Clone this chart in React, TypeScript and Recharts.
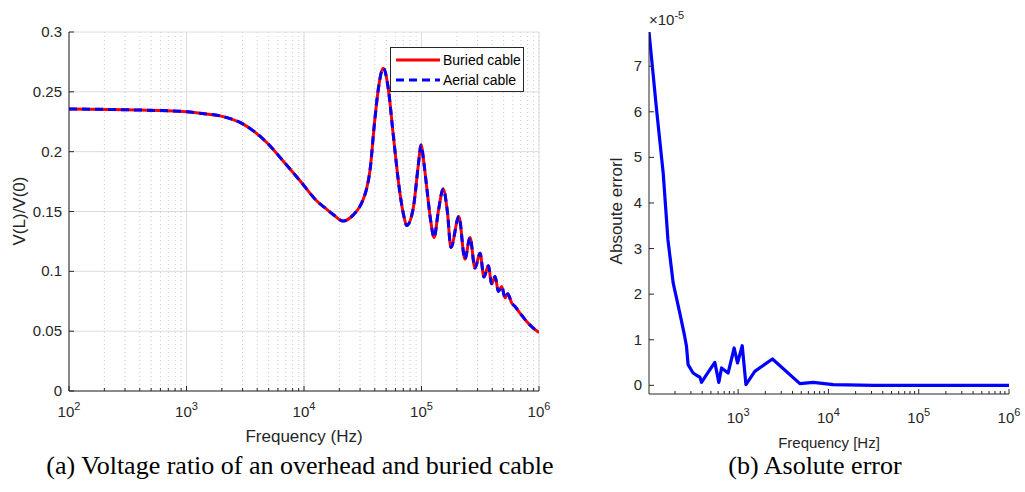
import React from "react";
import { LineChart, Line, XAxis, YAxis, CartesianGrid, Legend } from "recharts";

// (a) voltage ratio, frequency in Hz
const freqA = [
  100, 316, 1000, 1300, 1930, 3040, 4820, 6670, 9250, 12800, 15100, 17700, 21600, 26300, 30000, 32000, 34200,
  36500, 39800, 43000, 47300, 52100, 57500, 65600, 70800, 74800, 85100, 94000, 99100, 105000, 111000, 120000,
  128000, 139000, 153000, 166000, 178000, 208000, 234000, 259000, 285000, 315000, 340000, 371000, 395000,
  423000, 451000, 482000, 514000, 542000, 586000, 625000, 689000, 785000, 895000, 1000000,
];
const buriedCable = [
  0.2357, 0.235, 0.2334, 0.2321, 0.2299, 0.223, 0.2077, 0.192, 0.1757, 0.159, 0.153, 0.1475, 0.142, 0.1472, 0.1545, 0.1605, 0.1695,
  0.1848, 0.224, 0.253, 0.2697, 0.253, 0.214, 0.165, 0.146, 0.1383, 0.1528, 0.189, 0.2056, 0.19, 0.1695, 0.1416,
  0.1283, 0.15, 0.1687, 0.15, 0.12, 0.1458, 0.1102, 0.1283, 0.1027, 0.1152, 0.0952, 0.1046, 0.0896,
  0.0957, 0.0832, 0.0873, 0.0777, 0.0812, 0.0735, 0.0706, 0.0651, 0.0581, 0.0526, 0.0489,
];
// the two curves lie on top of each other
const aerialCable = buriedCable.slice();

// (b) absolute error, units of 1e-5
const freqB = [
  103, 125, 148, 167, 191, 226, 256, 268, 279, 317, 361, 377, 393, 447, 552, 611, 655, 774, 904, 984,
  1110, 1220, 1530, 2400, 4830, 6780, 11300, 31600, 1000000,
];
const absError = [
  7.75, 6.04, 4.65, 3.19, 2.24, 1.585, 1.073, 0.854, 0.453, 0.27, 0.197, 0.184, 0.066, 0.234, 0.504, 0.066, 0.381, 0.27, 0.819, 0.49,
  0.869, 0.015, 0.307, 0.578, 0.037, 0.066, 0.015, 0, 0,
];

const decadesA = [100, 1000, 10000, 100000, 1000000];
const decadesB = [1000, 10000, 100000, 1000000];
const minorsA = [100, 1000, 10000, 100000].flatMap((d) => [2, 3, 4, 5, 6, 7, 8, 9].map((m) => m * d));
const minorsB = minorsA.filter((f) => f > 103);
const yTicksA = [0, 0.05, 0.1, 0.15, 0.2, 0.25, 0.3];
const yTicksB = [0, 1, 2, 3, 4, 5, 6, 7];

const dataA = freqA.map((f, i) => ({ freq: f, buried: buriedCable[i], aerial: aerialCable[i] }));
const dataB = freqB.map((f, i) => ({ freq: f, err: absError[i] }));

const AX = "#262626";
const FONT = "'Liberation Sans', Arial, sans-serif";
const SERIF = "'Liberation Serif', 'Times New Roman', serif";

const makeBottomTick = (majors: number[], labelDy: number) => (props: any) => {
  const { x, y, payload } = props;
  const major = majors.includes(payload.value);
  return (
    <g>
      <line x1={x} y1={y} x2={x} y2={y - (major ? 5 : 3)} stroke={AX} />
      {major && (
        <text x={x} y={y + labelDy} textAnchor="middle" fontSize={15} fill={AX} fontFamily={FONT}>
          10
          <tspan dy={-7} fontSize={11}>{Math.round(Math.log10(payload.value))}</tspan>
        </text>
      )}
    </g>
  );
};

const makeTopTick = (majors: number[]) => (props: any) => {
  const { x, y, payload } = props;
  const major = majors.includes(payload.value);
  return <line x1={x} y1={y} x2={x} y2={y + (major ? 5 : 3)} stroke={AX} />;
};

const LeftTick = (props: any) => {
  const { x, y, payload } = props;
  return (
    <g>
      <line x1={x} y1={y} x2={x + 5} y2={y} stroke={AX} />
      <text x={x - 7} y={y + 5} textAnchor="end" fontSize={15} fill={AX} fontFamily={FONT}>
        {payload.value}
      </text>
    </g>
  );
};

const RightTick = (props: any) => {
  const { x, y } = props;
  return <line x1={x} y1={y} x2={x - 5} y2={y} stroke={AX} />;
};

const LegendBox = () => (
  <div
    style={{
      border: "1px solid #262626",
      background: "#fff",
      width: 132,
      height: 43,
      fontFamily: FONT,
      fontSize: 14,
      color: "#000",
      boxSizing: "content-box",
    }}
  >
    {[
      { name: "Buried cable", color: "#ff0000", dash: undefined },
      { name: "Aerial cable", color: "#0000ff", dash: "8 5" },
    ].map((e, i) => (
      <div key={e.name} style={{ display: "flex", alignItems: "center", height: 20, marginTop: i === 0 ? 2 : 0 }}>
        <svg width={52} height={20}>
          <line x1={5} y1={10} x2={49} y2={10} stroke={e.color} strokeWidth={3} strokeDasharray={e.dash} />
        </svg>
        <span>{e.name}</span>
      </div>
    ))}
  </div>
);

const centered = (left: number, top: number, rotate = false): React.CSSProperties => ({
  position: "absolute",
  left,
  top,
  transform: `translate(-50%, -50%)${rotate ? " rotate(-90deg)" : ""}`,
  whiteSpace: "nowrap",
});

export default function App() {
  return (
    <div style={{ position: "absolute", left: 0, top: 0, width: 1025, height: 492, background: "#fff" }}>
      <div style={{ position: "absolute", left: 0, top: 0 }}>
        <LineChart width={560} height={440} data={dataA} margin={{ top: 32, right: 21, bottom: 20, left: 9 }}>
          <CartesianGrid xAxisId="x" yAxisId="y" horizontal={false} stroke="#c8c8c8" strokeDasharray="1 3" />
          <CartesianGrid xAxisId="maj" yAxisId="y" stroke="#dcdcdc" />
          <XAxis
            xAxisId="x"
            dataKey="freq"
            type="number"
            scale="log"
            domain={[100, 1000000]}
            ticks={[...decadesA, ...minorsA]}
            allowDataOverflow
            interval={0}
            height={29}
            tickSize={0}
            tickMargin={0}
            tickLine={false}
            stroke={AX}
            tick={makeBottomTick(decadesA, 26)}
          />
          <XAxis xAxisId="maj" dataKey="freq" type="number" scale="log" domain={[100, 1000000]} ticks={decadesA} allowDataOverflow height={0} hide />
          <XAxis
            xAxisId="top"
            orientation="top"
            dataKey="freq"
            type="number"
            scale="log"
            domain={[100, 1000000]}
            ticks={[...decadesA, ...minorsA]}
            allowDataOverflow
            interval={0}
            height={0}
            tickSize={0}
            tickMargin={0}
            tickLine={false}
            stroke={AX}
            tick={makeTopTick(decadesA)}
          />
          <YAxis
            yAxisId="y"
            type="number"
            domain={[0, 0.3]}
            ticks={yTicksA}
            interval={0}
            width={60}
            tickSize={0}
            tickMargin={0}
            tickLine={false}
            stroke={AX}
            tick={LeftTick}
          />
          <YAxis
            yAxisId="r"
            orientation="right"
            type="number"
            domain={[0, 0.3]}
            ticks={yTicksA}
            interval={0}
            width={0}
            tickSize={0}
            tickMargin={0}
            tickLine={false}
            stroke={AX}
            tick={RightTick}
          />
          <Line xAxisId="x" yAxisId="y" type="monotone" dataKey="buried" stroke="#ff0000" strokeWidth={3} dot={false} isAnimationActive={false} />
          <Line xAxisId="x" yAxisId="y" type="monotone" dataKey="aerial" stroke="#0000ff" strokeWidth={3} strokeDasharray="8 5" dot={false} isAnimationActive={false} />
          <Legend layout="vertical" verticalAlign="middle" align="center" content={LegendBox} wrapperStyle={{ left: 390, top: 47, width: 134, height: 45 }} />
        </LineChart>
      </div>

      <div style={{ position: "absolute", left: 560, top: 0 }}>
        <LineChart width={465} height={440} data={dataB} margin={{ top: 32, right: 16, bottom: 20, left: 29 }}>
          <XAxis
            xAxisId="x"
            dataKey="freq"
            type="number"
            scale="log"
            domain={[103, 1000000]}
            ticks={[...decadesB, ...minorsB]}
            allowDataOverflow
            interval={0}
            height={26}
            tickSize={0}
            tickMargin={0}
            tickLine={false}
            stroke={AX}
            tick={makeBottomTick(decadesB, 29)}
          />
          <XAxis
            xAxisId="top"
            orientation="top"
            dataKey="freq"
            type="number"
            scale="log"
            domain={[103, 1000000]}
            ticks={[...decadesB, ...minorsB]}
            allowDataOverflow
            interval={0}
            height={0}
            tickSize={0}
            tickMargin={0}
            tickLine={false}
            stroke={AX}
            tick={makeTopTick(decadesB)}
          />
          <YAxis
            yAxisId="y"
            type="number"
            domain={[-0.19, 7.75]}
            ticks={yTicksB}
            allowDataOverflow
            interval={0}
            width={60}
            tickSize={0}
            tickMargin={0}
            tickLine={false}
            stroke={AX}
            tick={LeftTick}
          />
          <YAxis
            yAxisId="r"
            orientation="right"
            type="number"
            domain={[-0.19, 7.75]}
            ticks={yTicksB}
            allowDataOverflow
            interval={0}
            width={0}
            tickSize={0}
            tickMargin={0}
            tickLine={false}
            stroke={AX}
            tick={RightTick}
          />
          <Line xAxisId="x" yAxisId="y" type="linear" dataKey="err" stroke="#0000ff" strokeWidth={3.2} strokeLinejoin="round" dot={false} isAnimationActive={false} />
        </LineChart>
      </div>

      {/* axis titles */}
      <div style={{ ...centered(304, 437), fontFamily: FONT, fontSize: 17, color: AX }}>Frequency (Hz)</div>
      <div style={{ ...centered(20, 211, true), fontFamily: FONT, fontSize: 17, color: AX }}>V(L)/V(0)</div>
      <div style={{ ...centered(829, 442), fontFamily: FONT, fontSize: 15, color: AX }}>Frequency [Hz]</div>
      <div style={{ ...centered(617, 211, true), fontFamily: FONT, fontSize: 17, color: AX }}>Absoute errorl</div>
      <div style={{ position: "absolute", left: 649, top: 9, fontFamily: FONT, fontSize: 15, color: AX, whiteSpace: "nowrap" }}>
        ×10<sup style={{ fontSize: 11 }}>-5</sup>
      </div>

      {/* captions */}
      <div style={{ ...centered(300, 466), fontFamily: SERIF, fontSize: 26, color: "#000" }}>
        (a) Voltage ratio of an overhead and buried cable
      </div>
      <div style={{ ...centered(815, 466), fontFamily: SERIF, fontSize: 26, color: "#000" }}>
        (b) Asolute error
      </div>
    </div>
  );
}
